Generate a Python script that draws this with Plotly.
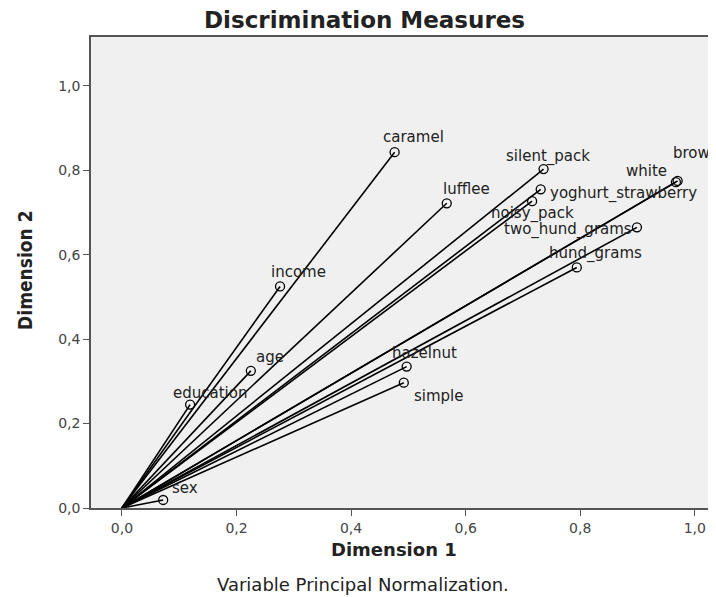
import plotly.graph_objects as go

variables = ["caramel", "lufflee", "silent_pack", "brown", "white", "yoghurt_strawberry",
             "noisy_pack", "two_hund_grams", "hund_grams", "income", "age", "education",
             "hazelnut", "simple", "sex"]
dim1 = [0.476, 0.567, 0.736, 0.970, 0.967, 0.731, 0.716, 0.899, 0.794, 0.276, 0.225, 0.119,
        0.497, 0.492, 0.072]
dim2 = [0.843, 0.722, 0.803, 0.775, 0.772, 0.755, 0.727, 0.665, 0.570, 0.525, 0.325, 0.245,
        0.335, 0.297, 0.019]

x_ticks = [0.0, 0.2, 0.4, 0.6, 0.8, 1.0]
y_ticks = [0.0, 0.2, 0.4, 0.6, 0.8, 1.0]

# label offsets in pixels (style only)
label_style = {
    "caramel": (19, 15, "center"),
    "lufflee": (20, 14, "center"),
    "silent_pack": (4, 13, "center"),
    "brown": (18, 28, "center"),
    "white": (-29, 11, "center"),
    "yoghurt_strawberry": (7, -4, "left"),
    "noisy_pack": (0, -12, "center"),
    "two_hund_grams": (-3, -2, "right"),
    "hund_grams": (19, 14, "center"),
    "income": (18, 14, "center"),
    "age": (19, 14, "center"),
    "education": (20, 12, "center"),
    "hazelnut": (18, 14, "center"),
    "simple": (35, -13, "center"),
    "sex": (22, 12, "center"),
}

lx, ly = [], []
for a, b in zip(dim1, dim2):
    lx += [0, a, None]
    ly += [0, b, None]

fig = go.Figure()
fig.add_trace(go.Scatter(x=lx, y=ly, mode="lines",
                         line=dict(color="black", width=1.6), hoverinfo="skip",
                         showlegend=False))
fig.add_trace(go.Scatter(x=dim1, y=dim2, mode="markers", text=variables,
                         marker=dict(symbol="circle-open", size=9,
                                     line=dict(color="black", width=1.3), color="black"),
                         showlegend=False))

for name, a, b in zip(variables, dim1, dim2):
    dx, dy, al = label_style[name]
    fig.add_annotation(x=a, y=b, text=name, showarrow=False, xshift=dx, yshift=dy,
                       xanchor=al, yanchor="middle",
                       font=dict(family="DejaVu Sans", size=15, color="#222222"))

txt = dict(xref="paper", yref="paper", showarrow=False, xanchor="center", yanchor="middle")
fig.add_annotation(x=0.437, y=1.036, text="<b>Discrimination Measures</b>",
                   font=dict(family="DejaVu Sans", size=23, color="#222222"), **txt)
fig.add_annotation(x=0.485, y=-0.089, text="<b>Dimension 1</b>",
                   font=dict(family="DejaVu Sans", size=18, color="#222222"), **txt)
fig.add_annotation(x=-0.106, y=0.505, text="<b>Dimension 2</b>", textangle=-90,
                   font=dict(family="DejaVu Sans Condensed", size=19, color="#222222"), **txt)
fig.add_annotation(x=0.435, y=-0.163, text="Variable Principal Normalization.",
                   font=dict(family="DejaVu Sans", size=18, color="#222222"), **txt)

fig.update_layout(
    width=708, height=589,
    margin=dict(l=83, r=0, t=29, b=89),
    paper_bgcolor="white", plot_bgcolor="#F0F0F0",
    separators=", ",
    xaxis=dict(range=[-0.054, 1.037], tickvals=x_ticks, tickformat=".1f",
               automargin=False,
               showgrid=False, zeroline=False, showline=True, linecolor="#555555",
               linewidth=1.5, mirror=True, ticks="outside", ticklen=6, tickcolor="#555555",
               tickfont=dict(family="DejaVu Sans", size=14, color="#444444")),
    yaxis=dict(range=[0, 1.116], tickvals=y_ticks, tickformat=".1f",
               automargin=False,
               showgrid=False, zeroline=False, showline=True, linecolor="#555555",
               linewidth=1.5, ticks="outside", ticklen=6, tickcolor="#555555",
               tickfont=dict(family="DejaVu Sans", size=14, color="#444444")),
)

fig.write_html("out.html")
